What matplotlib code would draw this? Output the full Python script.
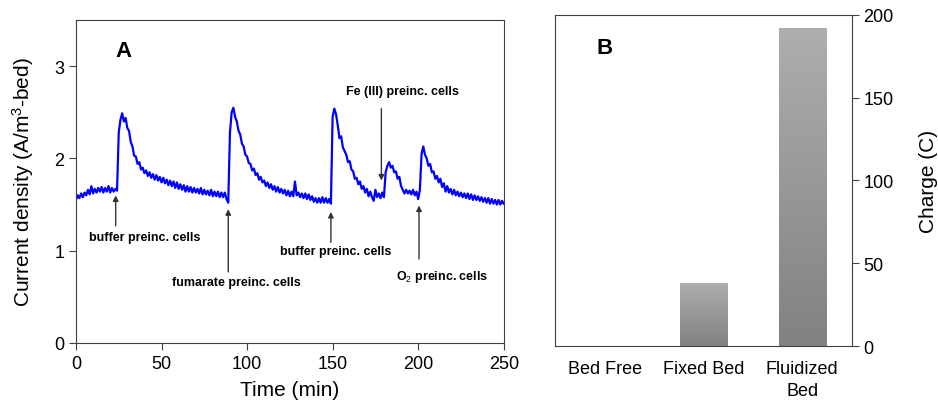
import numpy as np
import matplotlib
matplotlib.use("Agg")
import matplotlib.pyplot as plt

plt.rcParams["font.family"] = "Liberation Sans"
plt.rcParams["mathtext.fontset"] = "custom"
plt.rcParams["mathtext.rm"] = "Liberation Sans"
plt.rcParams["mathtext.it"] = "Liberation Sans:italic"
plt.rcParams["mathtext.bf"] = "Liberation Sans:bold"

# ---------- panel A data (1 min steps) ----------
time_min = np.arange(0, 251)
current = [
    1.55, 1.60, 1.57, 1.62, 1.58, 1.63, 1.60, 1.66, 1.61, 1.70,
    1.62, 1.67, 1.63, 1.68, 1.64, 1.69, 1.63, 1.68, 1.64, 1.70,
    1.63, 1.68, 1.64, 1.67, 1.65, 2.28, 2.42, 2.49, 2.40, 2.44,
    2.33, 2.30, 2.18, 2.13, 2.03, 2.02, 1.94, 1.96, 1.88, 1.90,
    1.84, 1.87, 1.81, 1.85, 1.79, 1.83, 1.77, 1.82, 1.76, 1.80,
    1.74, 1.79, 1.73, 1.77, 1.71, 1.76, 1.70, 1.75, 1.68, 1.74,
    1.67, 1.72, 1.66, 1.71, 1.64, 1.70, 1.64, 1.69, 1.63, 1.68,
    1.63, 1.67, 1.62, 1.68, 1.61, 1.66, 1.61, 1.65, 1.60, 1.66,
    1.59, 1.64, 1.59, 1.64, 1.58, 1.63, 1.58, 1.63, 1.56, 1.52,
    2.28, 2.50, 2.55, 2.45, 2.40, 2.30, 2.26, 2.16, 2.13, 2.04,
    2.02, 1.95, 1.94, 1.87, 1.89, 1.82, 1.84, 1.77, 1.80, 1.74,
    1.76, 1.70, 1.74, 1.68, 1.72, 1.66, 1.70, 1.64, 1.69, 1.63,
    1.67, 1.62, 1.66, 1.60, 1.65, 1.59, 1.64, 1.59, 1.75, 1.60,
    1.63, 1.58, 1.62, 1.57, 1.62, 1.56, 1.61, 1.55, 1.59, 1.53,
    1.57, 1.52, 1.57, 1.52, 1.58, 1.52, 1.57, 1.52, 1.56, 1.51,
    2.45, 2.54, 2.48, 2.36, 2.22, 2.24, 2.12, 2.08, 2.04, 1.96,
    1.97, 1.88, 1.86, 1.78, 1.79, 1.72, 1.75, 1.67, 1.70, 1.63,
    1.67, 1.59, 1.64, 1.58, 1.54, 1.66, 1.58, 1.62, 1.57, 1.63,
    1.58, 1.85, 1.92, 1.96, 1.90, 1.92, 1.85, 1.86, 1.78, 1.80,
    1.70, 1.66, 1.62, 1.66, 1.62, 1.65, 1.61, 1.66, 1.60, 1.64,
    1.56, 1.66, 2.05, 2.13, 2.04, 2.00, 1.92, 1.94, 1.85, 1.86,
    1.78, 1.81, 1.74, 1.78, 1.69, 1.73, 1.64, 1.70, 1.63, 1.67,
    1.61, 1.66, 1.60, 1.64, 1.59, 1.63, 1.58, 1.62, 1.57, 1.62,
    1.56, 1.61, 1.55, 1.60, 1.55, 1.59, 1.54, 1.58, 1.53, 1.57,
    1.52, 1.57, 1.51, 1.56, 1.51, 1.55, 1.50, 1.55, 1.50, 1.54,
    1.51,
]

# annotations: text, text pos (left, y), arrow tail, arrow head
notes = [
    ("buffer preinc. cells", (7.6, 1.15), (23.2, 1.27), (23.2, 1.60)),
    ("fumarate preinc. cells", (56.4, 0.66), (89.0, 0.77), (89.0, 1.45)),
    ("buffer preinc. cells", (119.2, 1.00), (149.0, 1.09), (149.0, 1.42)),
    ("Fe (III) preinc. cells", (158.0, 2.73), (178.5, 2.54), (178.5, 1.76)),
    ("O$_2$ preinc. cells", (187.3, 0.73), (200.5, 0.91), (200.5, 1.49)),
]

# ---------- panel B data ----------
beds = ["Bed Free", "Fixed Bed", "Fluidized\nBed"]
charge = [0, 38, 192]

fig = plt.figure(figsize=(9.38, 4.06), dpi=100)
axA = fig.add_axes([0.081, 0.153, 0.456, 0.795])
axB = fig.add_axes([0.592, 0.145, 0.316, 0.816])

spine_c = "#404040"

# ---------- panel A ----------
axA.plot(time_min, current, color="#0000ff", linewidth=1.6)
axA.set_xlim(0, 250)
axA.set_ylim(0, 3.5)
axA.set_xticks([0, 50, 100, 150, 200, 250])
axA.set_yticks([0, 1, 2, 3])
axA.set_xlabel("Time (min)", fontsize=15, labelpad=6)
axA.set_ylabel("Current density (A/m$^{3}$-bed)", fontsize=15, labelpad=13)
axA.tick_params(direction="out", length=5, labelsize=13, color=spine_c)
for s in axA.spines.values():
    s.set_color(spine_c)
axA.text(28, 3.17, "A", fontsize=16, fontweight="bold", ha="center", va="center")

for txt, tpos, tail, head in notes:
    axA.annotate(
        "", xy=head, xytext=tail,
        arrowprops=dict(arrowstyle="-|>", color="#333333", lw=1.0,
                        mutation_scale=8, shrinkA=0, shrinkB=0),
    )
    axA.text(tpos[0], tpos[1], txt, fontsize=9, fontweight="bold",
             ha="left", va="center")

# ---------- panel B ----------
xpos = np.arange(len(beds))
bars = axB.bar(xpos, charge, width=0.48, color="none", edgecolor="none")
grad = np.linspace(0, 1, 256).reshape(-1, 1)
cmap = matplotlib.colors.LinearSegmentedColormap.from_list(
    "g", ["#818181", "#aeaeae"])
for b in bars:
    if b.get_height() <= 0:
        continue
    x0, w, h = b.get_x(), b.get_width(), b.get_height()
    im = axB.imshow(grad, cmap=cmap, aspect="auto", origin="lower",
                    extent=[x0, x0 + w, 0, h], zorder=2)
    im.set_clip_path(b)
axB.set_xlim(-0.5, 2.5)
axB.set_ylim(0, 200)
axB.set_xticks(xpos)
axB.set_xticklabels(beds, fontsize=13, linespacing=1.35)
axB.tick_params(axis="x", length=0, pad=10)
axB.yaxis.tick_right()
axB.yaxis.set_label_position("right")
axB.set_yticks([0, 50, 100, 150, 200])
axB.tick_params(axis="y", direction="out", length=5, labelsize=13, color=spine_c)
axB.set_ylabel("Charge (C)", fontsize=15, labelpad=18)
for s in axB.spines.values():
    s.set_color(spine_c)
axB.text(0.0, 180, "B", fontsize=16, fontweight="bold", ha="center", va="center")

fig.savefig("out.png", dpi=100)
